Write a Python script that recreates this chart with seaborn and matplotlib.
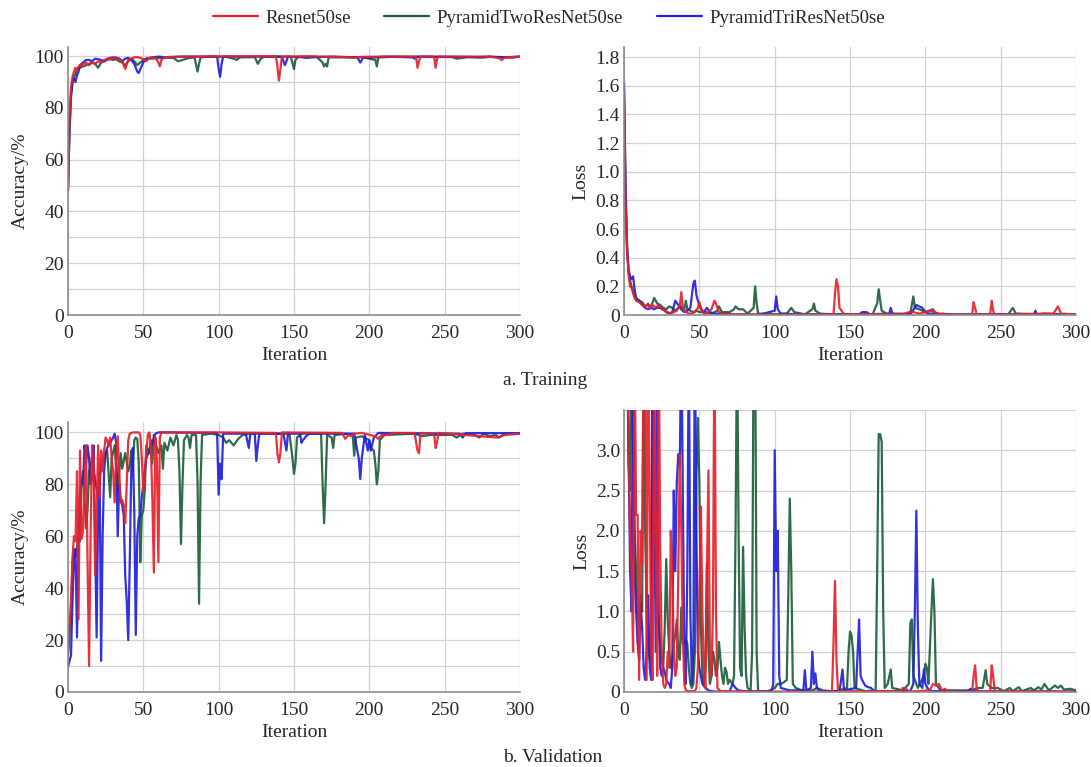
import numpy as np
import pandas as pd
import matplotlib
matplotlib.use("Agg")
import matplotlib.pyplot as plt
import seaborn as sns
from matplotlib.ticker import MultipleLocator
from matplotlib.lines import Line2D

# CONFIG
MODELS = ["Resnet50se", "PyramidTwoResNet50se", "PyramidTriResNet50se"]
COLORS = {"Resnet50se": "#e8212b", "PyramidTwoResNet50se": "#1c5e3a", "PyramidTriResNet50se": "#1f1fdc"}

# ---- a. Training accuracy (iteration, value) ----
tr_acc_red_it = [0, 1, 2, 3, 4, 5, 6, 7, 8, 9, 10, 12, 14, 16, 18, 20, 22, 24, 26, 28, 30, 32, 34, 36, 38, 40, 42, 44, 46, 48, 50, 52, 54, 56, 58, 60, 61, 62, 64, 68, 75, 85, 100, 120, 138, 139, 140, 141, 142, 160, 185, 190, 195, 210, 231, 232, 233, 234, 243, 244, 245, 246, 280, 286, 288, 290, 300]
tr_acc_red = [48, 75, 88, 92, 94, 95.5, 94.5, 96, 96.5, 96, 97, 97.5, 96.5, 97.5, 97, 98, 97.5, 98.5, 98.8, 99, 99.2, 98.8, 99, 98, 95, 98.5, 99, 99.5, 99.6, 99.3, 98.8, 98, 99.3, 99.5, 99.3, 97.5, 96, 98.5, 99.5, 99.7, 99.8, 99.8, 99.9, 99.9, 99.9, 96, 90.5, 95, 99.8, 99.9, 99.6, 99.4, 99.7, 99.8, 99.8, 95.5, 98, 99.8, 99.8, 95.5, 99, 99.8, 99.8, 99.2, 98.5, 99.5, 99.8]

tr_acc_green_it = [0, 1, 2, 3, 4, 5, 6, 8, 10, 12, 14, 16, 18, 20, 22, 24, 26, 28, 30, 32, 34, 36, 38, 40, 42, 44, 46, 48, 50, 52, 56, 60, 65, 70, 73, 76, 80, 84, 86, 87, 88, 95, 105, 110, 112, 114, 124, 126, 128, 130, 145, 148, 150, 151, 153, 165, 169, 170, 171, 172, 173, 185, 195, 204, 205, 206, 220, 240, 255, 258, 262, 265, 275, 280, 290, 300]
tr_acc_green = [48, 70, 84, 90, 92, 93, 95, 95.5, 96, 96.5, 97, 97.5, 97, 95.5, 97.5, 98, 98.5, 98.8, 98.5, 98.8, 98, 97.5, 96.5, 98, 99, 98, 96.5, 97.5, 98.5, 99, 99, 99.2, 99.4, 99.3, 98, 98.5, 99.2, 99.5, 94, 97, 99.5, 99.8, 99.7, 99, 98.5, 99.5, 99.6, 97, 99, 99.7, 99.8, 99.6, 95, 98.5, 99.8, 99.8, 97.5, 96, 97, 96, 99.5, 99.5, 99.6, 98.5, 96, 99.5, 99.8, 99.7, 99.6, 99, 99.3, 99.6, 99.4, 99.7, 99.5, 99.8]

tr_acc_blue_it = [0, 1, 2, 3, 4, 5, 6, 7, 8, 10, 12, 14, 16, 18, 20, 22, 24, 26, 28, 30, 32, 34, 36, 38, 40, 42, 44, 46, 47, 48, 50, 52, 56, 60, 65, 70, 75, 90, 99, 100, 101, 102, 103, 120, 142, 143, 144, 145, 146, 155, 158, 162, 175, 192, 194, 196, 200, 210, 229, 230, 232, 260, 272, 280, 295, 300]
tr_acc_blue = [48, 72, 85, 90, 91.5, 90, 92.5, 94, 96.5, 97.5, 98.5, 98.5, 98, 99, 98.8, 98.5, 98, 99, 99.3, 99.5, 99.4, 99, 98, 99, 99.3, 98.5, 97, 94, 93.5, 95, 97.5, 99, 99.5, 99.8, 99.5, 99.6, 99.8, 99.8, 99.7, 95, 92, 97, 99.8, 99.8, 99.8, 98, 96.5, 98, 99.8, 99.6, 99.3, 99.5, 99.8, 99.5, 97.5, 99.5, 99.3, 99.8, 99.5, 99, 99.8, 99.7, 99.6, 99.8, 99.4, 99.8]

# ---- a. Training loss ----
tr_loss_red_it = [0, 1, 2, 3, 4, 5, 6, 7, 8, 10, 12, 14, 16, 17, 19, 21, 23, 25, 27, 29, 31, 33, 35, 37, 38, 39, 41, 43, 45, 47, 49, 50, 51, 53, 55, 58, 60, 61, 63, 66, 80, 100, 139, 140, 141, 142, 143, 146, 185, 189, 192, 196, 204, 206, 210, 212, 214, 231, 232, 233, 234, 243, 244, 245, 246, 285, 288, 290, 300]
tr_loss_red = [1.5, 0.8, 0.45, 0.28, 0.2, 0.19, 0.15, 0.12, 0.1, 0.09, 0.07, 0.06, 0.08, 0.05, 0.07, 0.05, 0.07, 0.04, 0.03, 0.02, 0.01, 0.02, 0.03, 0.06, 0.16, 0.05, 0.02, 0.01, 0.01, 0.02, 0.05, 0.09, 0.05, 0.01, 0.01, 0.04, 0.1, 0.08, 0.02, 0.005, 0.003, 0.002, 0.003, 0.15, 0.25, 0.2, 0.05, 0.005, 0.005, 0.02, 0.02, 0.01, 0.03, 0.02, 0.005, 0.01, 0.002, 0.002, 0.09, 0.05, 0.002, 0.003, 0.1, 0.03, 0.002, 0.01, 0.06, 0.01, 0.002]

tr_loss_green_it = [0, 1, 2, 3, 4, 5, 6, 7, 8, 10, 12, 14, 16, 18, 20, 22, 24, 26, 28, 30, 32, 34, 36, 38, 40, 41, 42, 44, 46, 48, 50, 54, 58, 62, 63, 65, 70, 73, 74, 76, 79, 82, 86, 87, 88, 89, 100, 108, 111, 113, 120, 125, 126, 127, 130, 140, 165, 168, 169, 170, 171, 175, 190, 192, 193, 196, 200, 205, 207, 220, 255, 258, 260, 275, 278, 290, 300]
tr_loss_green = [1.55, 0.9, 0.5, 0.3, 0.24, 0.2, 0.17, 0.13, 0.11, 0.1, 0.09, 0.06, 0.07, 0.06, 0.12, 0.08, 0.07, 0.05, 0.04, 0.06, 0.05, 0.03, 0.05, 0.06, 0.04, 0.1, 0.04, 0.03, 0.02, 0.03, 0.02, 0.02, 0.01, 0.03, 0.06, 0.02, 0.02, 0.04, 0.06, 0.04, 0.04, 0.01, 0.05, 0.2, 0.08, 0.01, 0.005, 0.01, 0.05, 0.02, 0.005, 0.04, 0.08, 0.03, 0.01, 0.003, 0.005, 0.08, 0.18, 0.1, 0.03, 0.005, 0.01, 0.13, 0.05, 0.04, 0.02, 0.04, 0.01, 0.003, 0.005, 0.05, 0.01, 0.005, 0.01, 0.005, 0.003]

tr_loss_blue_it = [0, 1, 2, 3, 4, 5, 6, 7, 8, 10, 12, 14, 16, 18, 20, 22, 24, 26, 28, 30, 32, 34, 36, 38, 40, 42, 44, 46, 47, 48, 49, 51, 53, 55, 57, 60, 70, 90, 100, 101, 102, 104, 115, 156, 158, 161, 163, 176, 177, 178, 190, 193, 194, 196, 198, 200, 202, 206, 210, 272, 273, 274, 300]
tr_loss_blue = [1.62, 0.85, 0.45, 0.32, 0.27, 0.25, 0.27, 0.18, 0.12, 0.1, 0.07, 0.05, 0.04, 0.05, 0.04, 0.05, 0.05, 0.04, 0.02, 0.01, 0.02, 0.1, 0.07, 0.04, 0.02, 0.03, 0.05, 0.22, 0.24, 0.14, 0.1, 0.04, 0.02, 0.05, 0.02, 0.01, 0.005, 0.003, 0.03, 0.13, 0.04, 0.01, 0.005, 0.005, 0.02, 0.02, 0.005, 0.01, 0.05, 0.01, 0.005, 0.05, 0.07, 0.06, 0.05, 0.02, 0.01, 0.01, 0.003, 0.005, 0.03, 0.005, 0.002]

# ---- b. Validation accuracy ----
va_acc_red_it = [0, 2, 3, 4, 5, 6, 7, 8, 9, 10, 11, 12, 13, 14, 15, 16, 17, 18, 19, 20, 21, 22, 23, 24, 25, 26, 27, 28, 29, 30, 31, 32, 33, 34, 35, 36, 37, 38, 39, 40, 41, 43, 47, 48, 49, 50, 51, 53, 54, 55, 56, 57, 58, 59, 60, 61, 62, 70, 100, 138, 139, 140, 141, 142, 182, 184, 186, 188, 190, 195, 204, 206, 208, 212, 215, 230, 232, 233, 234, 243, 244, 245, 246, 285, 290, 300]
va_acc_red = [15, 35, 52, 60, 58, 85, 28, 93, 59, 62, 80, 95, 50, 10, 60, 95, 90, 45, 68, 95, 75, 93, 85, 93, 98, 97, 95, 98, 90, 85, 73, 90, 98.5, 85, 73, 74, 72, 65, 80, 97, 99.5, 100, 100, 99, 90, 77, 85, 99, 100, 95, 75, 46, 98, 90, 50, 98, 100, 100, 100, 99.8, 92, 88.5, 92, 100, 99.8, 97.5, 99, 98.5, 99.5, 99.8, 98.5, 97.5, 99, 99, 99.8, 99.8, 93, 92, 99.8, 99.5, 94, 96.5, 99.8, 98, 99, 99.5]

va_acc_green_it = [0, 2, 3, 4, 5, 7, 8, 9, 10, 11, 12, 13, 14, 16, 18, 20, 22, 24, 26, 28, 29, 31, 33, 35, 36, 38, 40, 41, 42, 43, 44, 45, 46, 47, 48, 49, 50, 51, 52, 54, 55, 56, 57, 58, 60, 62, 63, 64, 66, 68, 70, 72, 73, 74, 75, 76, 77, 79, 80, 81, 82, 85, 86, 87, 88, 89, 95, 100, 103, 105, 107, 110, 113, 116, 120, 130, 147, 149, 150, 151, 152, 155, 168, 169, 170, 171, 172, 175, 176, 177, 185, 189, 190, 191, 195, 200, 201, 203, 204, 205, 206, 207, 210, 230, 235, 240, 255, 258, 262, 270, 273, 276, 280, 284, 286, 290, 300]
va_acc_green = [14, 30, 50, 55, 52, 60, 58, 80, 85, 75, 63, 70, 85, 90, 82, 75, 88, 90, 93, 75, 90, 95, 77, 92, 86, 92, 85, 87, 93, 85, 97, 98, 97.5, 88, 50, 68, 70, 78, 95, 92, 97, 88, 99, 96, 92, 95, 86, 96, 93, 98, 95, 99, 97, 85, 57, 80, 97, 99, 98, 94, 99, 99, 81, 34, 81, 99, 99.5, 99, 98, 96, 97, 95, 97.5, 99, 99.5, 99.5, 99.5, 90, 84, 88, 98, 99.5, 99.5, 80, 65, 80, 99, 98, 94, 99, 99.5, 99, 91, 98, 98.5, 97, 94, 93, 88, 80, 85, 97, 99, 99.5, 98.5, 99, 99, 98, 99.5, 99, 98, 99.5, 98.5, 99, 98, 99.5, 99.5]

va_acc_blue_it = [0, 1, 2, 3, 4, 5, 6, 7, 8, 9, 10, 11, 12, 13, 14, 15, 16, 17, 18, 19, 20, 21, 22, 23, 24, 25, 26, 28, 30, 31, 32, 33, 34, 35, 36, 37, 38, 39, 40, 41, 42, 43, 44, 45, 46, 47, 48, 49, 50, 52, 54, 56, 58, 60, 99, 100, 101, 102, 103, 118, 120, 121, 124, 125, 126, 127, 143, 145, 146, 154, 155, 156, 158, 160, 190, 193, 194, 195, 197, 199, 200, 201, 203, 206, 260, 262, 264, 300]
va_acc_blue = [9.5, 12, 14, 35, 52, 55, 21, 60, 75, 82, 80, 95, 88, 95, 90, 80, 82, 95, 60, 21, 70, 85, 12, 60, 85, 92, 94, 96, 98, 99.5, 96, 60, 80, 74, 72, 68, 45, 35, 20, 50, 85, 94, 70, 22, 60, 67, 68, 75, 80, 90, 93, 96, 99.5, 100, 99.8, 76, 88, 82, 99.5, 99.5, 94, 99.5, 99.5, 89, 95, 99.5, 99.5, 93, 99.5, 99.5, 96, 97, 98.5, 99.5, 99.5, 90, 82, 90, 99, 93, 97, 93, 98, 99.8, 99.5, 98, 99.7, 99.7]

# ---- b. Validation loss (values above 3.5 run off the top of the panel) ----
va_loss_red_it = [0, 2, 3, 4, 5, 6, 7, 8, 9, 10, 11, 12, 13, 14, 15, 16, 17, 18, 19, 20, 21, 22, 23, 24, 25, 26, 27, 28, 29, 30, 31, 32, 33, 34, 35, 36, 37, 38, 39, 40, 41, 43, 47, 48, 49, 50, 51, 52, 53, 54, 55, 56, 57, 58, 59, 60, 61, 62, 64, 100, 138, 139, 140, 141, 142, 184, 185, 187, 189, 203, 205, 207, 209, 211, 213, 215, 231, 232, 233, 234, 235, 243, 244, 245, 246, 300]
va_loss_red = [4.5, 4.5, 3.2, 2.0, 1.5, 0.5, 4.5, 2.2, 2.2, 0.15, 2.0, 1.6, 4.5, 4.5, 0.15, 4.5, 2.5, 0.5, 0.15, 4.5, 1.9, 0.2, 4.5, 1.8, 0.5, 0.1, 0.05, 0.1, 0.5, 0.3, 2.0, 1.5, 0.5, 0.2, 0.3, 1.5, 2.95, 2.0, 0.7, 0.1, 0.02, 0.01, 0.01, 0.05, 0.3, 1.2, 2.3, 1.0, 0.3, 0.05, 1.5, 2.75, 0.5, 0.2, 1.0, 4.5, 1.0, 0.05, 0.01, 0.005, 0.005, 0.6, 1.38, 0.4, 0.01, 0.01, 0.05, 0.04, 0.005, 0.02, 0.1, 0.08, 0.1, 0.02, 0.04, 0.005, 0.005, 0.2, 0.33, 0.05, 0.005, 0.01, 0.33, 0.2, 0.01, 0.005]

va_loss_green_it = [0, 2, 3, 4, 5, 6, 7, 8, 9, 10, 11, 12, 13, 14, 15, 16, 17, 18, 19, 20, 21, 22, 23, 24, 25, 26, 27, 28, 29, 30, 31, 32, 33, 34, 35, 36, 37, 38, 39, 40, 41, 42, 43, 44, 45, 46, 47, 48, 49, 50, 51, 52, 53, 54, 55, 56, 57, 58, 59, 60, 61, 62, 63, 64, 65, 66, 67, 68, 69, 70, 72, 73, 74, 75, 76, 77, 78, 79, 80, 81, 82, 84, 85, 86, 87, 88, 89, 95, 100, 102, 104, 106, 108, 109, 110, 111, 112, 114, 118, 125, 128, 132, 140, 148, 149, 150, 151, 152, 153, 160, 167, 168, 169, 170, 171, 172, 173, 175, 177, 178, 185, 189, 190, 191, 192, 195, 199, 200, 201, 202, 204, 205, 206, 207, 210, 230, 235, 238, 240, 241, 244, 248, 252, 256, 258, 262, 264, 270, 272, 275, 277, 279, 282, 286, 288, 290, 292, 296, 300]
va_loss_green = [4.5, 4.5, 2.8, 2.5, 4.5, 3.0, 2.0, 1.5, 1.0, 0.8, 1.2, 1.0, 4.5, 2.0, 1.0, 0.6, 0.4, 0.5, 4.5, 2.0, 1.2, 1.0, 0.8, 0.6, 0.4, 0.3, 0.8, 1.65, 0.9, 0.5, 0.3, 0.4, 0.6, 0.7, 0.9, 0.5, 0.4, 1.05, 0.6, 0.6, 0.65, 0.6, 0.3, 0.1, 0.05, 0.1, 0.5, 2.7, 3.4, 2.6, 0.8, 0.2, 0.1, 0.3, 1.6, 0.5, 0.1, 0.2, 0.5, 0.4, 0.2, 0.3, 0.62, 0.4, 0.2, 0.1, 0.3, 0.25, 0.1, 0.15, 0.1, 0.2, 2.0, 4.5, 2.0, 0.3, 0.2, 1.8, 0.8, 0.2, 0.05, 0.02, 0.5, 4.5, 4.5, 0.5, 0.01, 0.005, 0.05, 0.1, 0.1, 0.12, 0.15, 1.2, 2.4, 1.5, 0.1, 0.05, 0.02, 0.02, 0.05, 0.02, 0.005, 0.05, 0.5, 0.75, 0.7, 0.5, 0.05, 0.01, 0.02, 1.5, 3.2, 3.2, 3.1, 1.0, 0.05, 0.1, 0.28, 0.05, 0.02, 0.1, 0.85, 0.9, 0.2, 0.05, 0.2, 0.35, 0.3, 0.1, 1.0, 1.4, 1.0, 0.1, 0.02, 0.02, 0.05, 0.05, 0.27, 0.1, 0.05, 0.05, 0.01, 0.05, 0.01, 0.06, 0.01, 0.05, 0.02, 0.06, 0.03, 0.1, 0.02, 0.08, 0.05, 0.08, 0.03, 0.04, 0.02]

va_loss_blue_it = [0, 2, 3, 4, 5, 6, 7, 8, 9, 10, 11, 12, 13, 14, 15, 16, 17, 18, 19, 20, 21, 22, 23, 24, 25, 26, 27, 28, 29, 30, 31, 32, 33, 34, 35, 36, 37, 38, 39, 40, 41, 42, 43, 44, 45, 46, 47, 48, 49, 50, 52, 54, 56, 58, 60, 70, 72, 74, 76, 80, 98, 99, 100, 101, 102, 103, 104, 110, 119, 120, 121, 124, 125, 126, 127, 128, 130, 143, 145, 146, 154, 156, 157, 158, 160, 162, 164, 166, 190, 192, 193, 194, 195, 196, 198, 199, 200, 202, 204, 228, 230, 232, 300]
va_loss_blue = [4.5, 4.5, 3.0, 1.5, 1.0, 4.5, 1.5, 1.0, 0.6, 0.4, 1.1, 0.8, 0.3, 0.15, 0.5, 1.2, 0.3, 0.15, 4.5, 3.0, 0.5, 4.5, 1.0, 0.3, 0.2, 0.3, 0.25, 0.15, 0.12, 0.1, 0.05, 0.3, 2.5, 1.5, 2.6, 2.95, 2.8, 4.5, 2.5, 0.5, 0.1, 1.5, 4.5, 1.0, 0.1, 0.5, 4.5, 2.0, 0.5, 0.3, 0.1, 0.05, 0.02, 0.01, 0.005, 0.005, 0.1, 0.05, 0.02, 0.01, 0.01, 0.1, 3.0, 1.5, 2.0, 0.2, 0.05, 0.02, 0.02, 0.27, 0.02, 0.05, 0.5, 0.1, 0.23, 0.05, 0.01, 0.01, 0.28, 0.02, 0.05, 0.9, 0.2, 0.15, 0.08, 0.06, 0.05, 0.01, 0.01, 0.1, 1.0, 2.25, 0.8, 0.1, 0.05, 0.28, 0.1, 0.03, 0.01, 0.01, 0.04, 0.01, 0.005]


def build_frame(red_it, red, green_it, green, blue_it, blue):
    parts = []
    for name, it, val in [(MODELS[0], red_it, red), (MODELS[1], green_it, green), (MODELS[2], blue_it, blue)]:
        parts.append(pd.DataFrame({"Iteration": it, "value": val, "model": name}))
    return pd.concat(parts, ignore_index=True)


def draw_panel(ax, df, ylabel):
    # draw green and blue first so red sits on top, like the original
    for name in [MODELS[1], MODELS[2], MODELS[0]]:
        sns.lineplot(data=df[df["model"] == name], x="Iteration", y="value",
                     color=COLORS[name], linewidth=1.6, estimator=None, sort=False,
                     alpha=0.92, ax=ax, legend=False)
    ax.set_xlim(0, 300)
    ax.xaxis.set_major_locator(MultipleLocator(50))
    ax.set_xlabel("Iteration", fontsize=14, labelpad=4)
    ax.set_ylabel(ylabel, fontsize=14, labelpad=4)
    ax.grid(True, which="both", color="#d2d2d2", linewidth=0.9)
    ax.tick_params(axis="both", which="both", length=0, labelsize=14)
    ax.tick_params(axis="x", pad=7)
    ax.tick_params(axis="y", pad=3)
    for side in ["top", "right"]:
        ax.spines[side].set_visible(False)
    for side in ["left", "bottom"]:
        ax.spines[side].set_color("#8c8c8c")
        ax.spines[side].set_linewidth(1.2)
    ax.set_axisbelow(True)


sns.set_theme(style="white")
plt.rcParams["font.family"] = ["Liberation Serif", "DejaVu Serif"]

fig = plt.figure(figsize=(10.91, 7.67), dpi=100)
ax_tl = fig.add_axes([0.0623, 0.5893, 0.4143, 0.3494])
ax_tr = fig.add_axes([0.5720, 0.5893, 0.4143, 0.3494])
ax_bl = fig.add_axes([0.0623, 0.0978, 0.4143, 0.3520])
ax_br = fig.add_axes([0.5720, 0.0978, 0.4143, 0.3677])

draw_panel(ax_tl, build_frame(tr_acc_red_it, tr_acc_red, tr_acc_green_it, tr_acc_green, tr_acc_blue_it, tr_acc_blue), "Accuracy/%")
ax_tl.set_ylim(0, 103.5)
ax_tl.yaxis.set_major_locator(MultipleLocator(20))
ax_tl.yaxis.set_minor_locator(MultipleLocator(10))

draw_panel(ax_tr, build_frame(tr_loss_red_it, tr_loss_red, tr_loss_green_it, tr_loss_green, tr_loss_blue_it, tr_loss_blue), "Loss")
ax_tr.set_ylim(0, 1.87)
ax_tr.yaxis.set_major_locator(MultipleLocator(0.2))
ax_tr.yaxis.set_major_formatter(lambda v, p: "0" if v == 0 else f"{v:.1f}")

draw_panel(ax_bl, build_frame(va_acc_red_it, va_acc_red, va_acc_green_it, va_acc_green, va_acc_blue_it, va_acc_blue), "Accuracy/%")
ax_bl.set_ylim(0, 104)
ax_bl.yaxis.set_major_locator(MultipleLocator(20))
ax_bl.yaxis.set_minor_locator(MultipleLocator(10))

draw_panel(ax_br, build_frame(va_loss_red_it, va_loss_red, va_loss_green_it, va_loss_green, va_loss_blue_it, va_loss_blue), "Loss")
ax_br.set_ylim(0, 3.5)
ax_br.set_yticks([0, 0.5, 1.0, 1.5, 2.0, 2.5, 3.0])
ax_br.yaxis.set_major_formatter(lambda v, p: "0" if v == 0 else f"{v:.1f}")
ax_br.yaxis.set_minor_locator(MultipleLocator(0.5))

handles = [Line2D([0], [0], color=COLORS[m], linewidth=1.6) for m in MODELS]
fig.legend(handles, MODELS, loc="center", bbox_to_anchor=(0.503, 0.976), ncol=3,
           frameon=False, fontsize=13.5, handlelength=2.4, columnspacing=1.8, handletextpad=0.4)

fig.text(0.5, 0.504, "a. Training", ha="center", va="center", fontsize=14)
fig.text(0.507, 0.012, "b. Validation", ha="center", va="center", fontsize=14)

fig.savefig("out.png", dpi=100)
